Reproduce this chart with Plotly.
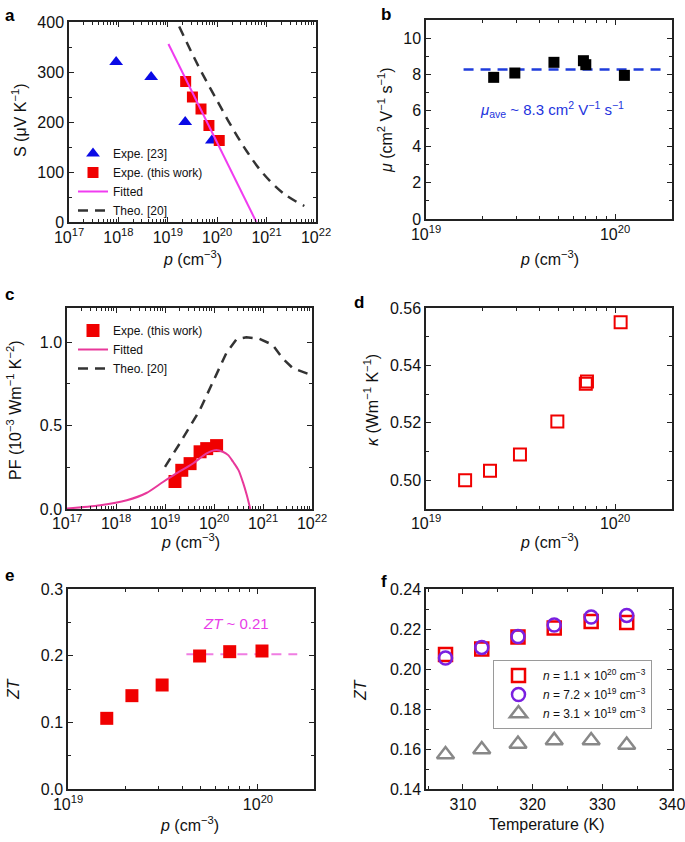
import plotly.graph_objects as go

FONT = "Liberation Sans, Arial, Helvetica, sans-serif"

# ---------------- data ----------------
# (a) Seebeck vs carrier concentration
a_tri_p = [9.0e17, 4.6e18, 2.25e19, 7.8e19]
a_tri_S = [320, 290, 200, 163]
a_sq_p = [2.3e19, 3.15e19, 4.7e19, 6.8e19, 1.1e20]
a_sq_S = [281, 250, 226, 193, 163]
a_fit_p = [1.03e19, 6.2e20]
a_fit_S = [356, 0]
a_theo_p = [1.7e19, 4.2e19, 9.8e19, 1.95e20, 4.0e20, 8.5e20, 2.2e21, 5.8e21]
a_theo_S = [391, 311, 244, 191, 141, 97, 57, 32]

# (b) mobility
b_p = [2.28e19, 2.95e19, 4.75e19, 6.8e19, 7.0e19, 1.12e20]
b_mu = [7.83, 8.07, 8.66, 8.75, 8.53, 7.94]
b_ave_p = [1.58e19, 1.84e20]
b_ave_mu = [8.26, 8.26]

# (c) power factor
c_sq_p = [1.6e19, 2.2e19, 3.25e19, 5.2e19, 7.1e19, 1.13e20]
c_sq_pf = [0.165, 0.232, 0.272, 0.343, 0.362, 0.380]
c_fit_p = [1.0e17, 4.8e17, 1.66e18, 4.17e18, 9.1e18, 1.70e19, 3.72e19, 7.08e19,
           1.12e20, 1.51e20, 1.95e20, 2.45e20, 3.16e20, 3.98e20, 4.68e20, 5.5e20]
c_fit_pf = [0.003, 0.022, 0.052, 0.096, 0.162, 0.213, 0.273, 0.333,
            0.353, 0.343, 0.323, 0.283, 0.233, 0.152, 0.082, 0.0]
c_theo_p = [1.0e19, 2.0e19, 5.13e19, 1.12e20, 1.78e20, 2.88e20, 4.57e20, 8.5e20,
            1.58e21, 2.5e21, 4.07e21, 9.5e21]
c_theo_pf = [0.253, 0.393, 0.593, 0.804, 0.934, 1.018, 1.030, 1.020,
             0.984, 0.904, 0.844, 0.804]

# (d) thermal conductivity
d_p = [1.61e19, 2.18e19, 3.14e19, 4.95e19, 7.0e19, 7.1e19, 1.07e20]
d_k = [0.500, 0.5033, 0.5090, 0.5205, 0.5336, 0.5344, 0.555]

# (e) ZT vs p
e_p = [1.6e19, 2.17e19, 3.13e19, 4.93e19, 7.1e19, 1.05e20]
e_zt = [0.106, 0.140, 0.156, 0.1995, 0.206, 0.207]
e_ave_p = [4.2e19, 1.61e20]
e_ave_zt = [0.202, 0.202]

# (f) ZT vs temperature
f_T = [307.5, 312.7, 317.9, 323.1, 328.4, 333.5]
f_zt_11e20 = [0.2072, 0.2100, 0.2160, 0.2205, 0.2237, 0.2233]
f_zt_72e19 = [0.2055, 0.2108, 0.2162, 0.2220, 0.2260, 0.2268]
f_zt_31e19 = [0.1572, 0.1597, 0.1625, 0.1643, 0.1642, 0.1620]

log_major_a = [1e17, 1e18, 1e19, 1e20, 1e21, 1e22]
log_major_a_txt = ["10<sup>17</sup>", "10<sup>18</sup>", "10<sup>19</sup>",
                   "10<sup>20</sup>", "10<sup>21</sup>", "10<sup>22</sup>"]
log_major_b = [1e19, 1e20]
log_major_b_txt = ["10<sup>19</sup>", "10<sup>20</sup>"]

P_TITLE = "<i>p</i> (cm<sup>−3</sup>)"

# ---------------- figure ----------------
# body margin is removed by post_script, so the figure fills the window from (0, 0)
OX, OY = 0, 0
W, H = 685, 842
FW, FH = W - OX, H - OY
fig = go.Figure()

RED = "#f00000"
BLUE = "#0a0ae6"
DASHC = "#333333"

# (a)
fig.add_trace(go.Scatter(x=a_tri_p, y=a_tri_S, mode="markers", name="Expe. [23]",
                         marker=dict(symbol="triangle-up", size=12, color=BLUE),
                         xaxis="x", yaxis="y", legend="legend"))
fig.add_trace(go.Scatter(x=a_sq_p, y=a_sq_S, mode="markers", name="Expe. (this work)",
                         marker=dict(symbol="square", size=11, color=RED),
                         xaxis="x", yaxis="y", legend="legend"))
fig.add_trace(go.Scatter(x=a_fit_p, y=a_fit_S, mode="lines", name="Fitted",
                         line=dict(color="#f03cf0", width=2),
                         xaxis="x", yaxis="y", legend="legend"))
fig.add_trace(go.Scatter(x=a_theo_p, y=a_theo_S, mode="lines", name="Theo. [20]",
                         line=dict(color=DASHC, width=2.5, dash="10px,7px", shape="spline"),
                         xaxis="x", yaxis="y", legend="legend"))

# (b)
fig.add_trace(go.Scatter(x=b_ave_p, y=b_ave_mu, mode="lines", showlegend=False,
                         line=dict(color="#1f3ddc", width=2.5, dash="10px,7px"),
                         xaxis="x2", yaxis="y2"))
fig.add_trace(go.Scatter(x=b_p, y=b_mu, mode="markers", showlegend=False,
                         marker=dict(symbol="square", size=11, color="black"),
                         xaxis="x2", yaxis="y2"))

# (c)
fig.add_trace(go.Scatter(x=c_sq_p, y=c_sq_pf, mode="markers", name="Expe. (this work)",
                         marker=dict(symbol="square", size=13, color=RED),
                         xaxis="x3", yaxis="y3", legend="legend2"))
fig.add_trace(go.Scatter(x=c_fit_p, y=c_fit_pf, mode="lines", name="Fitted",
                         line=dict(color="#e8389a", width=2, shape="spline", smoothing=0.8),
                         xaxis="x3", yaxis="y3", legend="legend2"))
fig.add_trace(go.Scatter(x=c_theo_p, y=c_theo_pf, mode="lines", name="Theo. [20]",
                         line=dict(color=DASHC, width=2.5, dash="10px,7px"),
                         xaxis="x3", yaxis="y3", legend="legend2"))

# (d)
fig.add_trace(go.Scatter(x=d_p, y=d_k, mode="markers", showlegend=False,
                         marker=dict(symbol="square-open", size=12, color=RED,
                                     line=dict(width=2, color=RED)),
                         xaxis="x4", yaxis="y4"))

# (e)
fig.add_trace(go.Scatter(x=e_ave_p, y=e_ave_zt, mode="lines", showlegend=False,
                         line=dict(color="#f07de2", width=2, dash="10px,7px"),
                         xaxis="x5", yaxis="y5"))
fig.add_trace(go.Scatter(x=e_p, y=e_zt, mode="markers", showlegend=False,
                         marker=dict(symbol="square", size=13, color=RED),
                         xaxis="x5", yaxis="y5"))

# (f)
fig.add_trace(go.Scatter(x=f_T, y=f_zt_11e20, mode="markers",
                         name="<i>n</i> = 1.1 × 10<sup>20</sup> cm<sup>−3</sup>",
                         marker=dict(symbol="square-open", size=13, color=RED,
                                     line=dict(width=2.5, color=RED)),
                         xaxis="x6", yaxis="y6", legend="legend3"))
fig.add_trace(go.Scatter(x=f_T, y=f_zt_72e19, mode="markers",
                         name="<i>n</i> = 7.2 × 10<sup>19</sup> cm<sup>−3</sup>",
                         marker=dict(symbol="circle-open", size=13, color="#7a1fe0",
                                     line=dict(width=2.5, color="#7a1fe0")),
                         xaxis="x6", yaxis="y6", legend="legend3"))
fig.add_trace(go.Scatter(x=f_T, y=f_zt_31e19, mode="markers",
                         name="<i>n</i> = 3.1 × 10<sup>19</sup> cm<sup>−3</sup>",
                         marker=dict(symbol="triangle-up-open", size=15, color="#888888",
                                     line=dict(width=2.5, color="#888888")),
                         xaxis="x6", yaxis="y6", legend="legend3"))


def PX(x):
    return (x - OX) / FW


def PY(y):
    return 1 - (y - OY) / FH


def px_dom_x(l, r):
    return [PX(l), PX(r)]


def px_dom_y(top, bottom):
    return [PY(bottom), PY(top)]


LINEC = "#222222"
TICKF = dict(family=FONT, size=16, color="#111111")


def axis(domain, anchor, rng, axtype="linear", **kw):
    d = dict(domain=domain, anchor=anchor, type=axtype, range=rng,
             showline=True, linecolor=LINEC, linewidth=1.5, mirror="allticks",
             ticks="inside", ticklen=5, tickwidth=1.2, tickcolor=LINEC,
             showgrid=False, zeroline=False, tickfont=TICKF,
             automargin=False, fixedrange=True, ticklabeloverflow="allow")
    d.update(kw)
    return d


minor_style = dict(ticks="inside", ticklen=3, tickwidth=1, tickcolor=LINEC, showgrid=False)


def log_minor(lo, hi):
    vals = []
    for e in range(lo, hi):
        for m in range(2, 10):
            vals.append(m * 10.0 ** e)
    return vals


xa_dom = px_dom_x(69, 316)
xc_dom = px_dom_x(67, 312)
xe_dom = px_dom_x(68, 314)
xr_dom = px_dom_x(426, 672)

fig.update_layout(
    width=FW, height=FH, margin=dict(l=0, r=0, t=0, b=0),
    paper_bgcolor="white", plot_bgcolor="white",
    font=dict(family=FONT, size=16, color="#111111"),
    # (a)
    xaxis=axis(xa_dom, "y", [17, 22], "log",
               tickmode="array", tickvals=log_major_a, ticktext=log_major_a_txt,
               minor=dict(tickmode="array", tickvals=log_minor(17, 22), **minor_style)),
    yaxis=axis(px_dom_y(22, 222), "x", [0, 400],
               dtick=100, tick0=0, minor=dict(dtick=50, **minor_style)),
    # (b)
    xaxis2=axis(xr_dom, "y2", [19, 20.301], "log",
                tickmode="array", tickvals=log_major_b, ticktext=log_major_b_txt,
                minor=dict(tickmode="array", tickvals=log_minor(19, 21), **minor_style)),
    yaxis2=axis(px_dom_y(20, 219), "x2", [0, 11],
                dtick=2, tick0=0, minor=dict(dtick=1, **minor_style)),
    # (c)
    xaxis3=axis(xc_dom, "y3", [17, 22], "log",
                tickmode="array", tickvals=log_major_a, ticktext=log_major_a_txt,
                ticklabelstandoff=-1,
                minor=dict(tickmode="array", tickvals=log_minor(17, 22), **minor_style)),
    yaxis3=axis(px_dom_y(308, 509), "x3", [0, 1.205],
                dtick=0.5, tick0=0, tickformat=".1f", minor=dict(dtick=0.25, **minor_style)),
    # (d)
    xaxis4=axis(xr_dom, "y4", [19, 20.301], "log",
                tickmode="array", tickvals=log_major_b, ticktext=log_major_b_txt,
                ticklabelstandoff=-1,
                minor=dict(tickmode="array", tickvals=log_minor(19, 21), **minor_style)),
    yaxis4=axis(px_dom_y(308, 509), "x4", [0.49, 0.56],
                dtick=0.02, tick0=0.5, tickformat=".2f", minor=dict(dtick=0.01, tick0=0.5, **minor_style)),
    # (e)
    xaxis5=axis(xe_dom, "y5", [19, 20.295], "log",
                tickmode="array", tickvals=log_major_b, ticktext=log_major_b_txt,
                minor=dict(tickmode="array", tickvals=log_minor(19, 21), **minor_style)),
    yaxis5=axis(px_dom_y(589, 789), "x5", [0, 0.3],
                dtick=0.1, tick0=0, tickformat=".1f", minor=dict(dtick=0.05, **minor_style)),
    # (f)
    xaxis6=axis(xr_dom, "y6", [304.7, 340],
                dtick=10, tick0=310, minor=dict(dtick=5, tick0=305, **minor_style)),
    yaxis6=axis(px_dom_y(589, 789), "x6", [0.14, 0.24],
                dtick=0.02, tick0=0.14, tickformat=".2f", minor=dict(dtick=0.01, **minor_style)),
    legend=dict(x=PX(73), y=PY(139), xanchor="left", yanchor="top",
                bgcolor="rgba(0,0,0,0)", borderwidth=0,
                font=dict(family=FONT, size=12, color="#111111"), tracegroupgap=0),
    legend2=dict(x=PX(73), y=PY(316), xanchor="left", yanchor="top",
                 bgcolor="rgba(0,0,0,0)", borderwidth=0,
                 font=dict(family=FONT, size=12, color="#111111"), tracegroupgap=0),
    legend3=dict(x=PX(493), y=PY(660), xanchor="left", yanchor="top",
                 bgcolor="white", bordercolor="#9a9a9a", borderwidth=1, itemwidth=39,
                 font=dict(family=FONT, size=12, color="#111111"), tracegroupgap=0),
)


def ann(text, x, y, size=16, color="#111111", angle=0, xanchor="center"):
    fig.add_annotation(text=text, x=PX(x), y=PY(y), xref="paper", yref="paper",
                       showarrow=False, xanchor=xanchor, yanchor="middle", textangle=angle,
                       font=dict(family=FONT, size=size, color=color))


# axis titles
ann("S (μV K<sup>−1</sup>)", 19, 120, angle=-90)
ann(P_TITLE, 192, 258)
ann("<i>μ</i> (cm<sup>2</sup> V<sup>−1</sup> s<sup>−1</sup>)", 385, 120, angle=-90)
ann(P_TITLE, 549, 258)
ann("PF (10<sup>−3</sup> Wm<sup>−1</sup> K<sup>−2</sup>)", 14, 410, angle=-90)
ann(P_TITLE, 190, 541)
ann("<i>κ</i> (Wm<sup>−1</sup> K<sup>−1</sup>)", 371, 400, angle=-90)
ann(P_TITLE, 549, 541)
ann("<i>ZT</i>", 13, 689, angle=-90)
ann(P_TITLE, 189, 824)
ann("<i>ZT</i>", 360, 690, angle=-90)
ann("Temperature (K)", 547, 824)

# panel letters
for letter, x, y in [("a", 3, 16), ("b", 379, 15), ("c", 3, 295),
                     ("d", 352, 302), ("e", 3, 575), ("f", 379, 581)]:
    fig.add_annotation(text=f"<b>{letter}</b>", x=PX(x), y=PY(y), xref="paper", yref="paper",
                       showarrow=False, xanchor="left", yanchor="middle",
                       font=dict(family=FONT, size=17, color="black"))

# in-plot annotations
ann("<i>μ</i><sub>ave</sub> ~ 8.3 cm<sup>2</sup> V<sup>−1</sup> s<sup>−1</sup>", 552, 110,
    size=15, color="#2233dd")
ann("<i>ZT</i> ~ 0.21", 236, 623, size=15, color="#e83ce8")

fig.write_html("out.html",
               config={"displayModeBar": False},
               post_script="document.body.style.margin='0px';document.body.style.overflow='hidden';")
